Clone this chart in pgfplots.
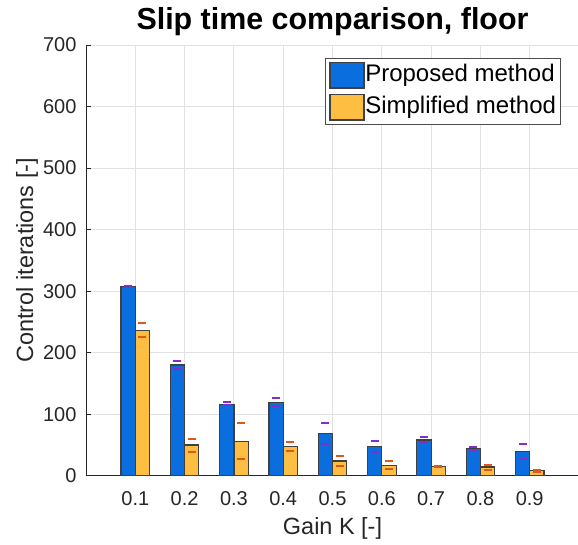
\documentclass[border=0pt]{standalone}
\usepackage{fontspec}
\setmainfont{Liberation Sans}
\usepackage{pgfplots}
\pgfplotsset{compat=1.18}
\usepackage{pgfplotstable}
\definecolor{barblue}{RGB}{10,110,222}
\definecolor{baryellow}{RGB}{253,190,65}
\definecolor{capviolet}{RGB}{128,48,200}
\definecolor{caporange}{RGB}{222,88,30}
\definecolor{axgray}{RGB}{38,38,38}
\definecolor{gridgray}{RGB}{226,226,226}
\pgfplotsset{barleg/.style={legend image code/.code={\draw[##1, line width=0.9pt] (0pt,-9.4pt) rectangle (25.5pt,9.4pt);}}}
\pgfplotstableread{
k   pv  sv  pu  pl  su  sl
0.1 308 236 309 307 249 225
0.2 180 50  187 173 60  39
0.3 116 56  119 115 85  27
0.4 119 47  126 113 54  40
0.5 69  24  86  52  32  16
0.6 48  17  56  38  24  11
0.7 58  15  63  55  16  14
0.8 44  14  46  41  18  9
0.9 39  8   51  27  9   6
}\data
\begin{document}
\begin{tikzpicture}
\path[use as bounding box] (0,0) rectangle (433.5pt,408.75pt);
\begin{axis}[
  at={(64.5pt,51.975pt)}, anchor=south west,
  width=369.75pt, height=323pt, scale only axis,
  xmin=0, xmax=1, ymin=0, ymax=700,
  axis x line*=bottom, axis y line*=left,
  axis line style={-, axgray, line width=0.6pt},
  xtick={0.1,0.2,0.3,0.4,0.5,0.6,0.7,0.8,0.9},
  xticklabels={0.1,0.2,0.3,0.4,0.5,0.6,0.7,0.8,0.9},
  ytick={0,100,200,300,400,500,600,700},
  yticklabels={0,100,200,300,400,500,600,700},
  tick align=inside, major tick length=4pt,
  tick style={axgray, line width=0.6pt},
  grid=major, major grid style={gridgray, line width=0.75pt},
  tick label style={font=\fontsize{15}{18}\selectfont, text=axgray},
  xticklabel style={anchor=base, yshift=-22.5pt, inner sep=0pt},
  yticklabel style={anchor=east, xshift=-7pt, inner sep=0pt},
  xlabel={Gain K [-]}, ylabel={Control iterations [-]},
  label style={font=\fontsize{17.6}{21}\selectfont, text=axgray},
  xlabel style={at={(rel axis cs:0.5,-0.1377)}, anchor=base},
  ylabel style={at={(rel axis cs:-0.1075,0.5)}, anchor=base, rotate=0},
  title={Slip time comparison, floor},
  title style={font=\bfseries\fontsize{22.8}{26}\selectfont, at={(rel axis cs:0.5,1.0186)}, anchor=base},
  legend style={at={(rel axis cs:0.9635,0.9700)}, anchor=north east,
    draw=black!70, line width=0.5pt, font=\fontsize{18}{21}\selectfont,
    inner sep=3pt, row sep=4.3pt,
    nodes={inner sep=0.5pt, text height=13pt, text depth=3.9pt},
    /tikz/every even column/.append style={column sep=3pt}},
  legend cell align=left,
]
\addplot[ybar, bar width=0.029, bar shift=-0.0145, fill=barblue, draw=black!75, line width=0.9pt, barleg]
  table[x=k, y=pv]{\data};
\addlegendentry{Proposed method}
\addplot[ybar, bar width=0.029, bar shift=0.0145, fill=baryellow, draw=black!75, line width=0.9pt, barleg]
  table[x=k, y=sv]{\data};
\addlegendentry{Simplified method}
\addplot[only marks, mark=-, mark size=3pt, mark options={line width=1.5pt, draw=capviolet}, forget plot]
  table[x expr=\thisrow{k}-0.0145, y=pu]{\data};
\addplot[only marks, mark=-, mark size=3pt, mark options={line width=1.5pt, draw=capviolet}, forget plot]
  table[x expr=\thisrow{k}-0.0145, y=pl]{\data};
\addplot[only marks, mark=-, mark size=3pt, mark options={line width=1.5pt, draw=caporange}, forget plot]
  table[x expr=\thisrow{k}+0.0145, y=su]{\data};
\addplot[only marks, mark=-, mark size=3pt, mark options={line width=1.5pt, draw=caporange}, forget plot]
  table[x expr=\thisrow{k}+0.0145, y=sl]{\data};
\end{axis}
\end{tikzpicture}
\end{document}
